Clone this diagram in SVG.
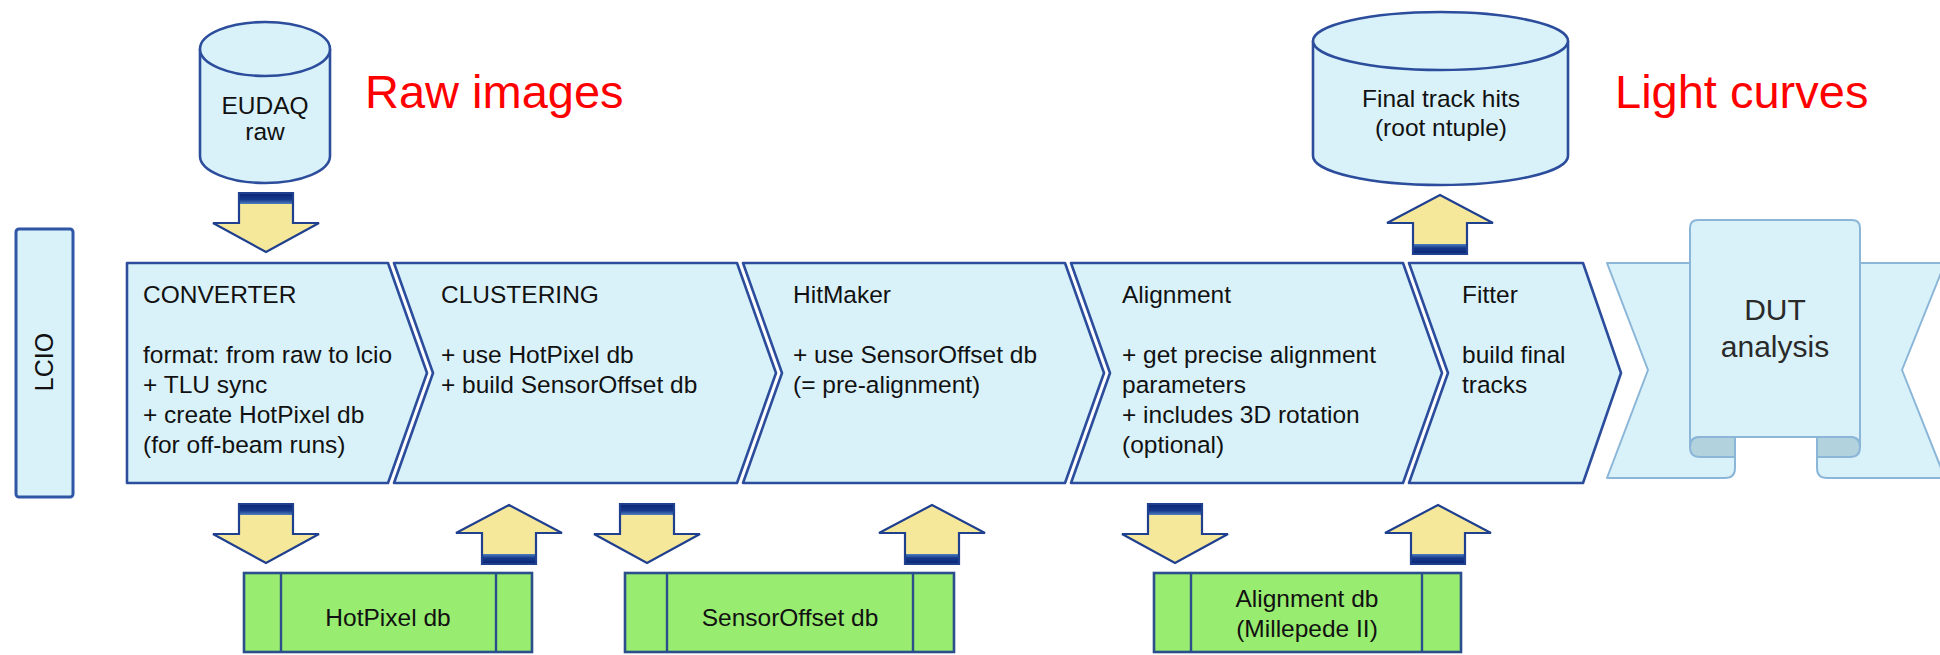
<svg xmlns="http://www.w3.org/2000/svg" xmlns:xlink="http://www.w3.org/1999/xlink" width="1940" height="655" viewBox="0 0 1940 655">
<style>
  .t { font-family: "Liberation Sans", Arial, sans-serif; font-size: 24.5px; fill: #111; }
  .mid { text-anchor: middle; }
  .red { font-family: "Liberation Sans", Arial, sans-serif; font-size: 47px; fill: #ff0000; }
  .dut { font-family: "Liberation Sans", Arial, sans-serif; font-size: 30px; fill: #2a2a2a; text-anchor: middle; }
  .step { fill: #d9f2fa; stroke: #2c4d9c; stroke-width: 2.6; stroke-linejoin: round; }
  .cyl { fill: #d9f2fa; stroke: #2c4d9c; stroke-width: 2.6; }
  .lcio { fill: #d9f2fa; stroke: #2f55a5; stroke-width: 3; }
  .db { fill: #98ec70; stroke: #2a4f8c; stroke-width: 2.6; }
  .dbline { stroke: #2a4f8c; stroke-width: 2.4; }
  .rib { fill: #d9f2fa; stroke: #8cb6d8; stroke-width: 2; stroke-linejoin: round; }
  .curl { fill: #b2d2de; stroke: #8cb6d8; stroke-width: 2; }
  .arrFill { fill: #f6e89a; }
  .arrLine { fill: none; stroke: #1f3f8f; stroke-width: 2.2; stroke-linejoin: miter; }
</style>
<defs>
  <linearGradient id="bandDown" x1="0" y1="0" x2="0" y2="1">
    <stop offset="0" stop-color="#0a2472"/>
    <stop offset="0.6" stop-color="#16398c"/>
    <stop offset="1" stop-color="#4f7fbe"/>
  </linearGradient>
  <linearGradient id="bandUp" x1="0" y1="1" x2="0" y2="0">
    <stop offset="0" stop-color="#0a2472"/>
    <stop offset="0.6" stop-color="#16398c"/>
    <stop offset="1" stop-color="#4f7fbe"/>
  </linearGradient>
  <g id="arrowDown">
    <path class="arrFill" d="M-27,0 H27 V30 H53 L0,59 L-53,30 H-27 Z"/>
    <rect x="-27" y="0" width="54" height="11" fill="url(#bandDown)"/>
    <path class="arrLine" d="M-27,0 H27 V30 H53 L0,59 L-53,30 H-27 Z"/>
  </g>
  <g id="arrowUp">
    <path class="arrFill" d="M0,0 L53,28 H27 V59 H-27 V28 H-53 Z"/>
    <rect x="-27" y="49" width="54" height="10" fill="url(#bandUp)"/>
    <path class="arrLine" d="M0,0 L53,28 H27 V59 H-27 V28 H-53 Z"/>
  </g>
</defs>

<rect x="0" y="0" width="1940" height="655" fill="#ffffff"/>

<!-- Data stores -->
<g id="eudaq-raw">
  <path class="cyl" d="M200,49 V156 A65,27 0 0 0 330,156 V49"/>
  <ellipse class="cyl" cx="265" cy="49" rx="65" ry="27"/>
  <text class="t mid" x="265" y="114">EUDAQ</text>
  <text class="t mid" x="265" y="140">raw</text>
</g>

<g id="final-track-hits">
  <path class="cyl" d="M1313,41 V156 A127.5,29 0 0 0 1568,156 V41"/>
  <ellipse class="cyl" cx="1440.5" cy="41" rx="127.5" ry="29"/>
  <text class="t mid" x="1441" y="107">Final track hits</text>
  <text class="t mid" x="1441" y="136">(root ntuple)</text>
</g>

<g id="label-raw-images">
  <text class="red" x="365" y="108">Raw images</text>
</g>
<g id="label-light-curves">
  <text class="red" x="1615" y="108">Light curves</text>
</g>

<g id="lcio">
  <rect class="lcio" x="16" y="229" width="57" height="268" rx="3"/>
  <text class="t mid" transform="translate(53,362) rotate(-90)" style="font-size:25px">LCIO</text>
</g>

<!-- Processing chain -->
<g id="converter">
  <polygon class="step" points="127,263 388,263 427,373 388,483 127,483"/>
  <text class="t" x="143" y="303">CONVERTER</text>
  <text class="t" x="143" y="363">format: from raw to lcio</text>
  <text class="t" x="143" y="393">+ TLU sync</text>
  <text class="t" x="143" y="423">+ create HotPixel db</text>
  <text class="t" x="143" y="453">(for off-beam runs)</text>
</g>

<g id="clustering">
  <polygon class="step" points="394,263 737,263 776,373 737,483 394,483 433,373"/>
  <text class="t" x="441" y="303">CLUSTERING</text>
  <text class="t" x="441" y="363">+ use HotPixel db</text>
  <text class="t" x="441" y="393">+ build SensorOffset db</text>
</g>

<g id="hitmaker">
  <polygon class="step" points="743,263 1065,263 1104,373 1065,483 743,483 782,373"/>
  <text class="t" x="793" y="303">HitMaker</text>
  <text class="t" x="793" y="363">+ use SensorOffset db</text>
  <text class="t" x="793" y="393">(= pre-alignment)</text>
</g>

<g id="alignment">
  <polygon class="step" points="1071,263 1403,263 1442,373 1403,483 1071,483 1110,373"/>
  <text class="t" x="1122" y="303">Alignment</text>
  <text class="t" x="1122" y="363">+ get precise alignment</text>
  <text class="t" x="1122" y="393">parameters</text>
  <text class="t" x="1122" y="423">+ includes 3D rotation</text>
  <text class="t" x="1122" y="453">(optional)</text>
</g>

<g id="fitter">
  <polygon class="step" points="1409,263 1583,263 1621,373 1583,483 1409,483 1448,373"/>
  <text class="t" x="1462" y="303">Fitter</text>
  <text class="t" x="1462" y="363">build final</text>
  <text class="t" x="1462" y="393">tracks</text>
</g>

<g id="dut-analysis">
  <path class="rib" d="M1607,263 H1735 V468 Q1735,478 1725,478 H1607 L1648,370 Z"/>
  <path class="rib" d="M1945,263 H1817 V468 Q1817,478 1827,478 H1945 L1902,370 Z"/>
  <path class="rib" d="M1690,447 V228 Q1690,220 1698,220 H1852 Q1860,220 1860,228 V447 Q1860,437 1850,437 H1700 Q1690,437 1690,447 Z"/>
  <path class="curl" d="M1690,447 Q1690,437 1700,437 H1735 V457 H1700 Q1690,457 1690,447 Z"/>
  <path class="curl" d="M1860,447 Q1860,437 1850,437 H1817 V457 H1850 Q1860,457 1860,447 Z"/>
  <text class="dut" x="1775" y="320">DUT</text>
  <text class="dut" x="1775" y="357">analysis</text>
</g>

<!-- Databases -->
<g id="hotpixel-db">
  <rect class="db" x="244" y="573" width="288" height="79"/>
  <line class="dbline" x1="281" y1="573" x2="281" y2="652"/>
  <line class="dbline" x1="496" y1="573" x2="496" y2="652"/>
  <text class="t mid" x="388" y="626">HotPixel db</text>
</g>

<g id="sensoroffset-db">
  <rect class="db" x="625" y="573" width="329" height="79"/>
  <line class="dbline" x1="667" y1="573" x2="667" y2="652"/>
  <line class="dbline" x1="913" y1="573" x2="913" y2="652"/>
  <text class="t mid" x="790" y="626">SensorOffset db</text>
</g>

<g id="alignment-db">
  <rect class="db" x="1154" y="573" width="307" height="79"/>
  <line class="dbline" x1="1191" y1="573" x2="1191" y2="652"/>
  <line class="dbline" x1="1422" y1="573" x2="1422" y2="652"/>
  <text class="t mid" x="1307" y="607">Alignment db</text>
  <text class="t mid" x="1307" y="637">(Millepede II)</text>
</g>

<!-- Connectors (block arrows) -->
<g id="connectors">
  <use xlink:href="#arrowDown" href="#arrowDown" x="266" y="193"/>
  <use xlink:href="#arrowUp" href="#arrowUp" x="1440" y="195"/>
  <use xlink:href="#arrowDown" href="#arrowDown" x="266" y="504"/>
  <use xlink:href="#arrowUp" href="#arrowUp" x="509" y="505"/>
  <use xlink:href="#arrowDown" href="#arrowDown" x="647" y="504"/>
  <use xlink:href="#arrowUp" href="#arrowUp" x="932" y="505"/>
  <use xlink:href="#arrowDown" href="#arrowDown" x="1175" y="504"/>
  <use xlink:href="#arrowUp" href="#arrowUp" x="1438" y="505"/>
</g>
</svg>
